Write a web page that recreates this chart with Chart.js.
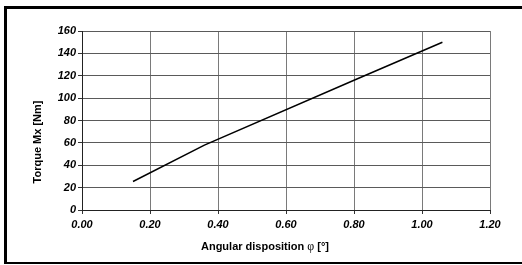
<!DOCTYPE html>
<html>
<head>
<meta charset="utf-8">
<script src="https://cdn.jsdelivr.net/npm/chart.js@4"></script>
<style>
html,body{margin:0;padding:0;background:#fff;}
#wrap{width:522px;height:265px;position:relative;}
</style>
</head>
<body>
<div id="wrap"><canvas id="c" width="522" height="265"></canvas></div>
<script>
const angleValues = [0.15, 0.36, 0.80, 1.06];
const torqueValues = [25.5, 58, 116, 150];
const xTicks = [0, 0.2, 0.4, 0.6, 0.8, 1.0, 1.2];
const yTicks = [0, 20, 40, 60, 80, 100, 120, 140, 160];
const xTitleParts = ["Angular disposition ", "φ", " [°]"];
const yTitle = "Torque Mx [Nm]";

const points = angleValues.map((x, i) => ({x: x, y: torqueValues[i]}));
const FONT = "'Liberation Sans', Arial, sans-serif";

const framePlugin = {
  id: 'frame',
  beforeDraw(chart) {
    const ctx = chart.ctx;
    ctx.save();
    ctx.fillStyle = '#fff';
    ctx.fillRect(0, 0, chart.width, chart.height);
    ctx.fillStyle = '#000';
    ctx.fillRect(4, 6, 518, 3);   // top
    ctx.fillRect(4, 6, 3, 258);   // left
    ctx.fillRect(4, 262, 518, 2); // bottom
    ctx.restore();
  },
  afterDraw(chart) {
    const ctx = chart.ctx;
    ctx.save();
    ctx.fillStyle = '#000';
    // y title
    ctx.font = "bold 11px " + FONT;
    ctx.translate(38, 142);
    ctx.rotate(-Math.PI / 2);
    ctx.textAlign = 'center';
    ctx.textBaseline = 'middle';
    ctx.fillText(yTitle, 0, 0);
    ctx.restore();
    // x title
    ctx.save();
    ctx.fillStyle = '#000';
    ctx.textBaseline = 'alphabetic';
    const fonts = ["bold 11px " + FONT, "12px 'Liberation Serif', 'DejaVu Serif', serif", "bold 11px " + FONT];
    let widths = xTitleParts.map((t, i) => { ctx.font = fonts[i]; return ctx.measureText(t).width; });
    const total = widths.reduce((a, b) => a + b, 0);
    let x = 265 - total / 2;
    xTitleParts.forEach((t, i) => {
      ctx.font = fonts[i];
      ctx.fillText(t, x, 250);
      x += widths[i];
    });
    ctx.restore();
  }
};

new Chart(document.getElementById('c'), {
  type: 'scatter',
  data: {
    datasets: [{
      data: points,
      showLine: true,
      borderColor: '#000',
      borderWidth: 1.5,
      pointRadius: 0,
      fill: false,
      tension: 0
    }]
  },
  options: {
    responsive: false,
    animation: false,
    devicePixelRatio: 1,
    layout: { padding: { left: 0, top: 31, right: 32, bottom: 0 } },
    plugins: { legend: { display: false }, tooltip: { enabled: false } },
    scales: {
      x: {
        type: 'linear',
        min: 0, max: 1.2,
        afterBuildTicks(scale) { scale.ticks = xTicks.map(v => ({value: v})); },
        afterFit(scale) { scale.height = 55; },
        grid: { color: '#7a7a7a', lineWidth: 1, tickLength: 4, tickColor: '#333' },
        border: { color: '#222', width: 1 },
        ticks: {
          color: '#000',
          padding: 4,
          maxRotation: 0,
          font: { family: FONT, size: 11, weight: 'bold', style: 'italic' },
          callback: v => v.toFixed(2)
        }
      },
      y: {
        type: 'linear',
        min: 0, max: 160,
        afterBuildTicks(scale) { scale.ticks = yTicks.map(v => ({value: v})); },
        afterFit(scale) { scale.width = 82; },
        grid: { color: '#5a5a5a', lineWidth: 1, tickLength: 4, tickColor: '#333' },
        border: { color: '#222', width: 1 },
        ticks: {
          color: '#000',
          padding: 2,
          font: { family: FONT, size: 11, weight: 'bold', style: 'italic' },
          callback: v => String(v)
        }
      }
    }
  },
  plugins: [framePlugin]
});
</script>
</body>
</html>
